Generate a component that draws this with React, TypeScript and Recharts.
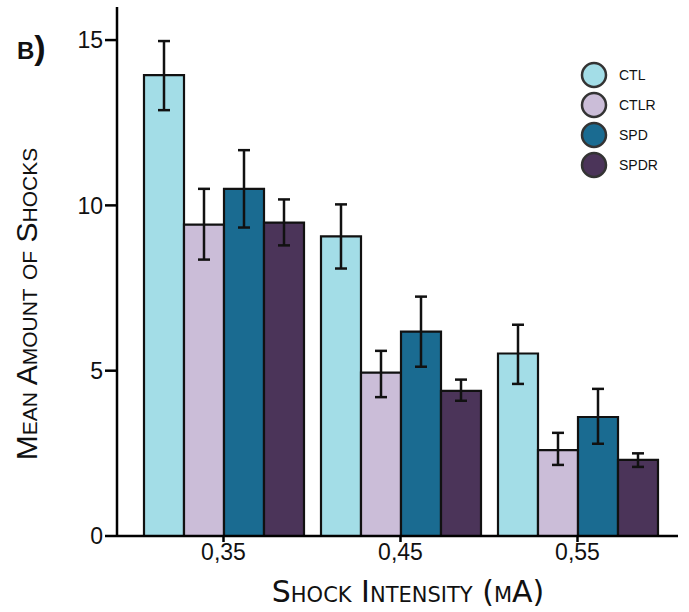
import React from "react";
import { BarChart, Bar, XAxis, YAxis, ErrorBar } from "recharts";

const intensities = ["0,35", "0,45", "0,55"];
const groups = ["CTL", "CTLR", "SPD", "SPDR"];
const colors = ["#A3DDE7", "#CBBDD8", "#1A6B91", "#4B3459"];

const ctl = [13.94, 9.06, 5.52];
const ctlErr = [[1.06, 1.03], [0.97, 0.97], [0.92, 0.87]];
const ctlr = [9.42, 4.94, 2.6];
const ctlrErr = [[1.06, 1.08], [0.74, 0.66], [0.45, 0.52]];
const spd = [10.5, 6.18, 3.6];
const spdErr = [[1.17, 1.17], [1.06, 1.06], [0.81, 0.85]];
const spdr = [9.48, 4.39, 2.3];
const spdrErr = [[0.69, 0.7], [0.3, 0.34], [0.21, 0.2]];
const yTicks = [0, 5, 10, 15];

const values = [ctl, ctlr, spd, spdr];
const errors = [ctlErr, ctlrErr, spdErr, spdrErr];

const data = intensities.map((name, i) => {
  const row: any = { name };
  groups.forEach((g, k) => {
    row[g] = values[k][i];
    row[g + "_err"] = errors[k][i];
  });
  return row;
});

const sans = "Liberation Sans, Arial, sans-serif";
const tickFont = { fontFamily: sans, fontSize: 23, fill: "#111" };

export default function App() {
  return (
    <div style={{ position: "absolute", left: 0, top: 0, width: 689, height: 612, background: "#fff" }}>
      <BarChart
        width={689}
        height={612}
        data={data}
        margin={{ top: 7, right: 11, left: 57, bottom: 36 }}
        barGap={0}
        barSize={40}
      >
        <XAxis
          dataKey="name"
          height={40}
          padding={{ left: 18, right: 12 }}
          tick={tickFont}
          tickSize={6}
          axisLine={{ stroke: "#000", strokeWidth: 2.5 }}
          tickLine={{ stroke: "#000", strokeWidth: 2.5 }}
        />
        <YAxis
          width={60}
          domain={[0, 16]}
          ticks={yTicks}
          tick={tickFont}
          tickSize={12}
          axisLine={{ stroke: "#000", strokeWidth: 2.5 }}
          tickLine={{ stroke: "#000", strokeWidth: 2.5 }}
        />
        {groups.map((g, i) => (
          <Bar key={g} dataKey={g} fill={colors[i]} stroke="#111" strokeWidth={2.2} isAnimationActive={false}>
            <ErrorBar dataKey={g + "_err"} width={6} stroke="#111" strokeWidth={2.5} />
          </Bar>
        ))}
      </BarChart>
      {/* axis titles */}
      <svg width={689} height={612} style={{ position: "absolute", left: 0, top: 0, pointerEvents: "none" }}>
        <text
          transform="translate(37, 304) rotate(-90)"
          textAnchor="middle"
          fontFamily={sans}
          fontSize={30}
          fill="#111"
          style={{ fontVariant: "small-caps" }}
        >
          Mean Amount of Shocks
        </text>
        <text
          x={408}
          y={602}
          textAnchor="middle"
          fontFamily="DejaVu Sans, sans-serif"
          fontSize={30}
          fill="#111"
          style={{ fontVariant: "small-caps" }}
        >
          Shock Intensity (mA)
        </text>
      </svg>
      <svg width={90} height={130} style={{ position: "absolute", left: 580, top: 60 }}>
        {groups.map((g, i) => (
          <g key={g}>
            <circle cx={14} cy={15 + i * 30} r={12} fill={colors[i]} stroke="#333" strokeWidth={2.5} />
            <text x={39} y={20 + i * 30} fontFamily={sans} fontSize={14} fill="#111">
              {g}
            </text>
          </g>
        ))}
      </svg>
      <div
        style={{
          position: "absolute",
          left: 17,
          top: 28,
          fontFamily: sans,
          fontWeight: 700,
          fontSize: 34,
          fontVariant: "small-caps",
          color: "#111",
        }}
      >
        b)
      </div>
    </div>
  );
}
